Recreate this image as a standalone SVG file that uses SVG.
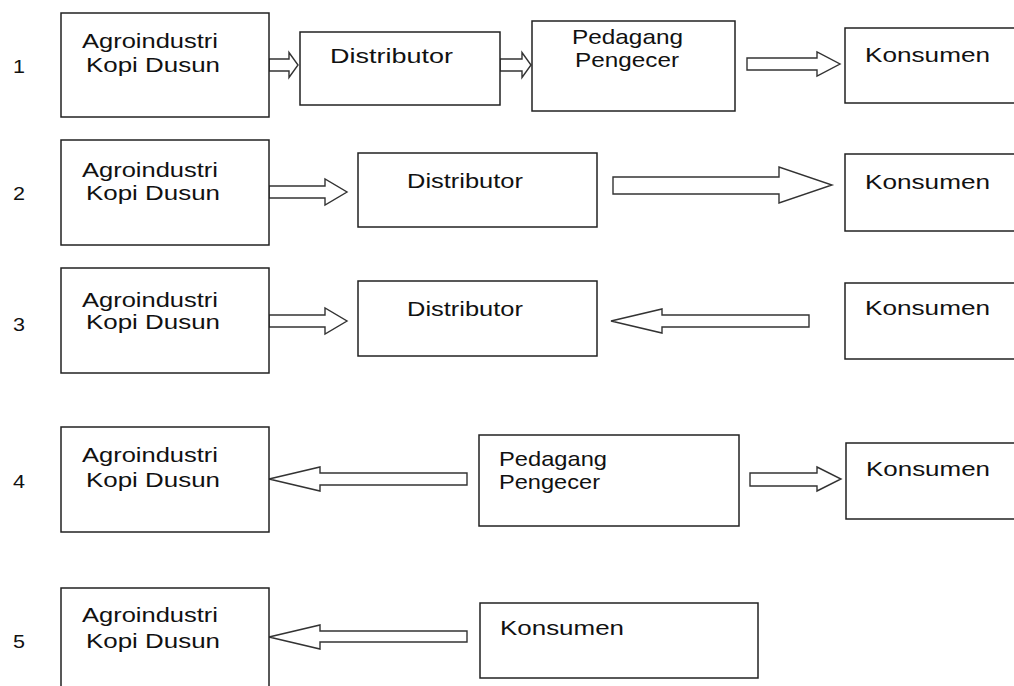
<svg xmlns="http://www.w3.org/2000/svg" width="1014" height="686" viewBox="0 0 1014 686">
<style>
.box{fill:#fff;stroke:#222;stroke-width:1.5}
.arr{fill:#fff;stroke:#333;stroke-width:1.4;stroke-linejoin:miter}
text{font-family:"Liberation Sans",Arial,sans-serif;font-size:21px;fill:#111}
.num{font-size:18px}
</style>
<rect width="1014" height="686" fill="#fff"/>
<g id="numbers">
<text class="num" x="13" y="73" textLength="12" lengthAdjust="spacingAndGlyphs">1</text>
<text class="num" x="13" y="200" textLength="12" lengthAdjust="spacingAndGlyphs">2</text>
<text class="num" x="13" y="331" textLength="12" lengthAdjust="spacingAndGlyphs">3</text>
<text class="num" x="13" y="488" textLength="12" lengthAdjust="spacingAndGlyphs">4</text>
<text class="num" x="13" y="648" textLength="12" lengthAdjust="spacingAndGlyphs">5</text>
</g>
<g id="connectors">
<polygon class="arr" points="269,59 289,59 289,52.5 298,65 289,77.5 289,71 269,71"/>
<polygon class="arr" points="500,59 522,59 522,52.5 531,65 522,77.5 522,71 500,71"/>
<polygon class="arr" points="747,58 817,58 817,52 840,64 817,76 817,70 747,70"/>
<polygon class="arr" points="269,186 325,186 325,179 347,192 325,205 325,198 269,198"/>
<polygon class="arr" points="613,177 779,177 779,167 832,185 779,203 779,194 613,194"/>
<polygon class="arr" points="269,315 325,315 325,308 347,321 325,334 325,327 269,327"/>
<polygon class="arr" points="809,315 662,315 662,309 611,321 662,333 662,327 809,327"/>
<polygon class="arr" points="467,473 320,473 320,467 269,479 320,491 320,485 467,485"/>
<polygon class="arr" points="750,473 817,473 817,467 841,479 817,491 817,486 750,486"/>
<polygon class="arr" points="467,631 320,631 320,625 269,637 320,649 320,642 467,642"/>
</g>
<g id="r1-agro"><rect class="box" x="61" y="13" width="208" height="104"/>
<text x="82" y="48" textLength="136" lengthAdjust="spacingAndGlyphs">Agroindustri</text>
<text x="86" y="72" textLength="134" lengthAdjust="spacingAndGlyphs">Kopi Dusun</text></g>
<g id="r1-distributor"><rect class="box" x="300" y="32" width="200" height="73"/>
<text x="330" y="63" textLength="123" lengthAdjust="spacingAndGlyphs">Distributor</text></g>
<g id="r1-pedagang"><rect class="box" x="532" y="21" width="203" height="90"/>
<text x="572" y="44" textLength="111" lengthAdjust="spacingAndGlyphs">Pedagang</text>
<text x="575" y="67" textLength="104" lengthAdjust="spacingAndGlyphs">Pengecer</text></g>
<g id="r1-konsumen"><rect class="box" x="845" y="28" width="190" height="75"/>
<text x="865" y="62" textLength="125" lengthAdjust="spacingAndGlyphs">Konsumen</text></g>

<g id="r2-agro"><rect class="box" x="61" y="140" width="208" height="105"/>
<text x="82" y="177" textLength="136" lengthAdjust="spacingAndGlyphs">Agroindustri</text>
<text x="86" y="200" textLength="134" lengthAdjust="spacingAndGlyphs">Kopi Dusun</text></g>
<g id="r2-distributor"><rect class="box" x="358" y="153" width="239" height="74"/>
<text x="407" y="188" textLength="116" lengthAdjust="spacingAndGlyphs">Distributor</text></g>
<g id="r2-konsumen"><rect class="box" x="845" y="154" width="190" height="77"/>
<text x="865" y="189" textLength="125" lengthAdjust="spacingAndGlyphs">Konsumen</text></g>

<g id="r3-agro"><rect class="box" x="61" y="268" width="208" height="105"/>
<text x="82" y="307" textLength="136" lengthAdjust="spacingAndGlyphs">Agroindustri</text>
<text x="86" y="329" textLength="134" lengthAdjust="spacingAndGlyphs">Kopi Dusun</text></g>
<g id="r3-distributor"><rect class="box" x="358" y="281" width="239" height="75"/>
<text x="407" y="316" textLength="116" lengthAdjust="spacingAndGlyphs">Distributor</text></g>
<g id="r3-konsumen"><rect class="box" x="845" y="283" width="190" height="76"/>
<text x="865" y="315" textLength="125" lengthAdjust="spacingAndGlyphs">Konsumen</text></g>

<g id="r4-agro"><rect class="box" x="61" y="427" width="208" height="105"/>
<text x="82" y="462" textLength="136" lengthAdjust="spacingAndGlyphs">Agroindustri</text>
<text x="86" y="487" textLength="134" lengthAdjust="spacingAndGlyphs">Kopi Dusun</text></g>
<g id="r4-pedagang"><rect class="box" x="479" y="435" width="260" height="91"/>
<text x="499" y="466" textLength="108" lengthAdjust="spacingAndGlyphs">Pedagang</text>
<text x="499" y="489" textLength="101" lengthAdjust="spacingAndGlyphs">Pengecer</text></g>
<g id="r4-konsumen"><rect class="box" x="846" y="443" width="190" height="76"/>
<text x="866" y="476" textLength="124" lengthAdjust="spacingAndGlyphs">Konsumen</text></g>

<g id="r5-agro"><rect class="box" x="61" y="588" width="208" height="110"/>
<text x="82" y="622" textLength="136" lengthAdjust="spacingAndGlyphs">Agroindustri</text>
<text x="86" y="648" textLength="134" lengthAdjust="spacingAndGlyphs">Kopi Dusun</text></g>
<g id="r5-konsumen"><rect class="box" x="480" y="603" width="278" height="75"/>
<text x="500" y="635" textLength="124" lengthAdjust="spacingAndGlyphs">Konsumen</text></g>
</svg>
